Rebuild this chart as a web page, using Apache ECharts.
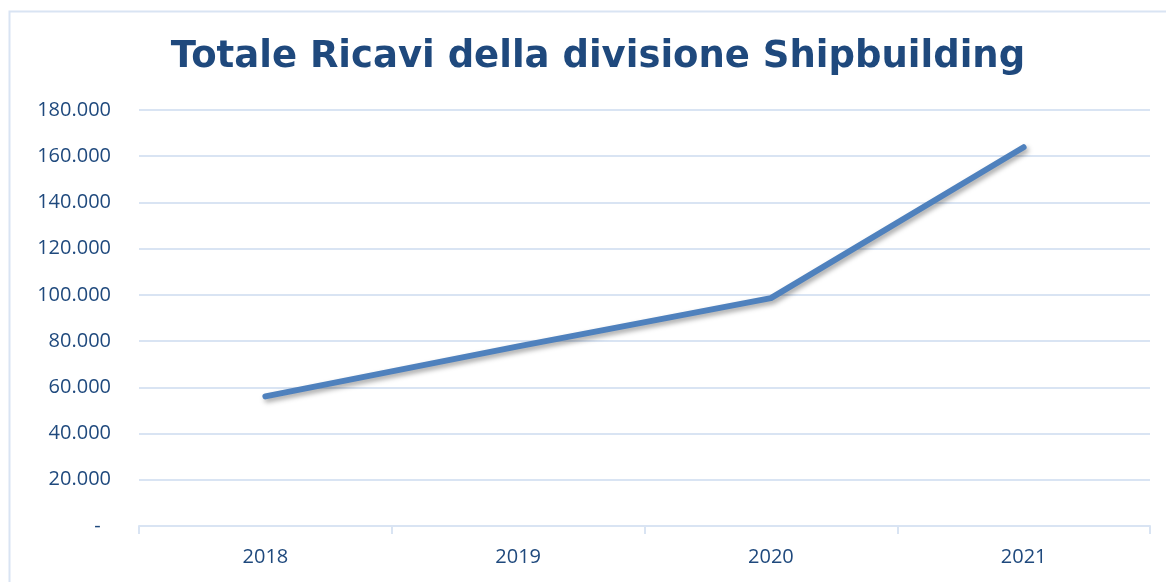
<!DOCTYPE html>
<html>
<head>
<meta charset="utf-8">
<script src="https://cdn.jsdelivr.net/npm/echarts@6/dist/echarts.min.js"></script>
<style>
  html, body { margin: 0; padding: 0; background: #fff; }
  #chart { width: 1166px; height: 582px; }
</style>
</head>
<body>
<div id="chart"></div>
<script>
// dati
const years = ['2018', '2019', '2020', '2021'];
const ricavi = [56100, 77700, 98600, 163900];
const yMax = 180000;
const yStep = 20000;

const textColor = '#1F497D';
const gridColor = '#D9E4F3';

function fmtNum(v) {
  if (v === 0) return '-  ';
  return String(v).replace(/\B(?=(\d{3})+(?!\d))/g, '.');
}

const chart = echarts.init(document.getElementById('chart'));
chart.setOption({
  animation: false,
  title: {
    text: 'Totale Ricavi della divisione Shipbuilding',
    left: 593,
    textAlign: 'center',
    top: 34,
    textStyle: {
      fontFamily: 'DejaVu Sans',
      fontWeight: 'bold',
      fontSize: 37,
      color: textColor
    }
  },
  graphic: [{
    type: 'rect',
    shape: { x: 9.5, y: 11.5, width: 1170, height: 590 },
    style: { fill: 'none', stroke: gridColor, lineWidth: 2 },
    silent: true
  }],
  grid: { left: 139, right: 16, top: 110, bottom: 56 },
  xAxis: {
    type: 'category',
    data: years,
    boundaryGap: true,
    axisLine: { lineStyle: { color: gridColor, width: 2 } },
    axisTick: { show: true, length: 8, lineStyle: { color: gridColor, width: 2 } },
    axisLabel: {
      margin: 21,
      fontFamily: 'Open Sans',
      fontSize: 20,
      color: textColor
    }
  },
  yAxis: {
    type: 'value',
    min: 0,
    max: yMax,
    interval: yStep,
    axisLine: { show: false },
    axisTick: { show: false },
    splitLine: { lineStyle: { color: gridColor, width: 2 } },
    axisLabel: {
      margin: 28,
      fontFamily: 'Open Sans',
      fontSize: 20,
      color: textColor,
      formatter: fmtNum
    }
  },
  series: [{
    type: 'line',
    data: ricavi,
    symbol: 'none',
    lineStyle: {
      color: '#4F81BD',
      width: 6,
      cap: 'round',
      join: 'round',
      shadowColor: 'rgba(0,0,0,0.35)',
      shadowBlur: 5,
      shadowOffsetX: 2,
      shadowOffsetY: 3
    }
  }]
});
</script>
</body>
</html>
